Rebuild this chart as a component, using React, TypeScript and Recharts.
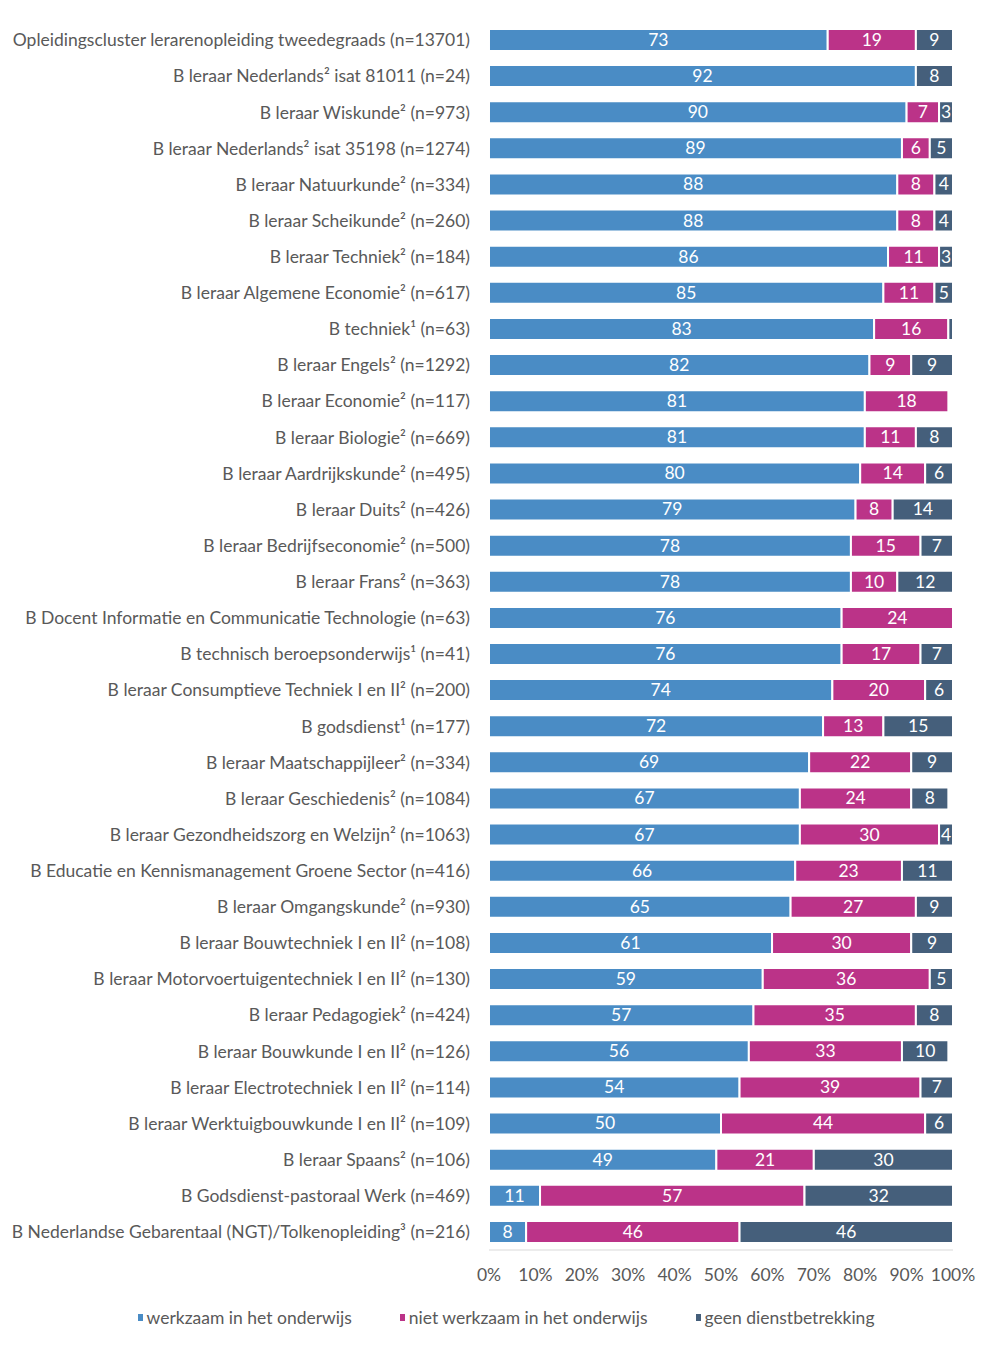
import React from "react";
import { BarChart, Bar, XAxis, YAxis, LabelList, Legend } from "recharts";

const categories = [
  "Opleidingscluster lerarenopleiding tweedegraads (n=13701)",
  "B leraar Nederlands² isat 81011 (n=24)",
  "B leraar Wiskunde² (n=973)",
  "B leraar Nederlands² isat 35198 (n=1274)",
  "B leraar Natuurkunde² (n=334)",
  "B leraar Scheikunde² (n=260)",
  "B leraar Techniek² (n=184)",
  "B leraar Algemene Economie² (n=617)",
  "B techniek¹ (n=63)",
  "B leraar Engels² (n=1292)",
  "B leraar Economie² (n=117)",
  "B leraar Biologie² (n=669)",
  "B leraar Aardrijkskunde² (n=495)",
  "B leraar Duits² (n=426)",
  "B leraar Bedrijfseconomie² (n=500)",
  "B leraar Frans² (n=363)",
  "B Docent Informatie en Communicatie Technologie (n=63)",
  "B technisch beroepsonderwijs¹ (n=41)",
  "B leraar Consumptieve Techniek I en II² (n=200)",
  "B godsdienst¹ (n=177)",
  "B leraar Maatschappijleer² (n=334)",
  "B leraar Geschiedenis² (n=1084)",
  "B leraar Gezondheidszorg en Welzijn² (n=1063)",
  "B Educatie en Kennismanagement Groene Sector (n=416)",
  "B leraar Omgangskunde² (n=930)",
  "B leraar Bouwtechniek I en II² (n=108)",
  "B leraar Motorvoertuigentechniek I en II² (n=130)",
  "B leraar Pedagogiek² (n=424)",
  "B leraar Bouwkunde I en II² (n=126)",
  "B leraar Electrotechniek I en II² (n=114)",
  "B leraar Werktuigbouwkunde I en II² (n=109)",
  "B leraar Spaans² (n=106)",
  "B Godsdienst-pastoraal Werk (n=469)",
  "B Nederlandse Gebarentaal (NGT)/Tolkenopleiding³ (n=216)",
];

const werkzaam = [73, 92, 90, 89, 88, 88, 86, 85, 83, 82, 81, 81, 80, 79, 78, 78, 76, 76, 74, 72, 69, 67, 67, 66, 65, 61, 59, 57, 56, 54, 50, 49, 11, 8];
const nietWerkzaam = [19, null, 7, 6, 8, 8, 11, 11, 16, 9, 18, 11, 14, 8, 15, 10, 24, 17, 20, 13, 22, 24, 30, 23, 27, 30, 36, 35, 33, 39, 44, 21, 57, 46];
const geenDienst = [9, 8, 3, 5, 4, 4, 3, 5, 1, 9, null, 8, 6, 14, 7, 12, null, 7, 6, 15, 9, 8, 4, 11, 9, 9, 5, 8, 10, 7, 6, 30, 32, 46];

const xTicks = [0, 10, 20, 30, 40, 50, 60, 70, 80, 90, 100];

const series = [
  { key: "werkzaam", name: "werkzaam in het onderwijs", color: "#4A8CC5" },
  { key: "niet", name: "niet werkzaam in het onderwijs", color: "#BB3388" },
  { key: "geen", name: "geen dienstbetrekking", color: "#455F7B" },
];

const data = categories.map((name, i) => ({
  name,
  werkzaam: werkzaam[i],
  niet: nietWerkzaam[i],
  geen: geenDienst[i],
}));

const FONT = "Lato, 'Open Sans', sans-serif";
const FS = 17.5;

const renderLabel = (props: any) => {
  const { x, y, width, height, value } = props;
  if (value == null || value < 2) return null;
  return (
    <text
      x={x + width / 2}
      y={y + height / 2 + 1.5}
      fill="#fff"
      fontSize={FS}
      fontFamily={FONT}
      textAnchor="middle"
      dominantBaseline="middle"
    >
      {value}
    </text>
  );
};

const LegendContent = () => (
  <div style={{ display: "flex", justifyContent: "center", height: 28, alignItems: "center", paddingLeft: 59, fontFamily: FONT, fontSize: FS, color: "#595959" }}>
    {series.map((s, i) => (
      <span key={s.key} style={{ display: "flex", alignItems: "center", marginLeft: i ? 48 : 0 }}>
        <span style={{ width: 5, height: 7, background: s.color, marginRight: 4, display: "inline-block" }} />
        {s.name}
      </span>
    ))}
  </div>
);

export default function App() {
  return (
    <div style={{ position: "absolute", left: 0, top: 0, width: 998, height: 1347, background: "#fff" }}>
      <BarChart
        width={998}
        height={1347}
        data={data}
        layout="vertical"
        margin={{ top: 22, right: 45, bottom: 16, left: 0 }}
        barCategoryGap={0}
        barSize={22}
      >
        <XAxis
          type="number"
          domain={[0, 100]}
          ticks={xTicks}
          tickFormatter={(v) => `${v}%`}
          allowDataOverflow
          axisLine={{ stroke: "#D9D9D9" }}
          tickLine={false}
          tickMargin={13}
          height={53}
          tick={{ fill: "#595959", fontSize: FS, fontFamily: FONT }}
          interval={0}
        />
        <YAxis
          type="category"
          dataKey="name"
          width={489}
          axisLine={false}
          tickLine={false}
          tickSize={0}
          tickMargin={19}
          interval={0}
          tick={{ fill: "#595959", fontSize: FS, fontFamily: FONT }}
        />
        <Legend verticalAlign="bottom" content={<LegendContent />} />
        {series.map((s) => (
          <Bar
            key={s.key}
            dataKey={s.key}
            name={s.name}
            stackId="a"
            fill={s.color}
            stroke="#fff"
            strokeWidth={2}
            isAnimationActive={false}
          >
            <LabelList dataKey={s.key} content={renderLabel} />
          </Bar>
        ))}
      </BarChart>
    </div>
  );
}
